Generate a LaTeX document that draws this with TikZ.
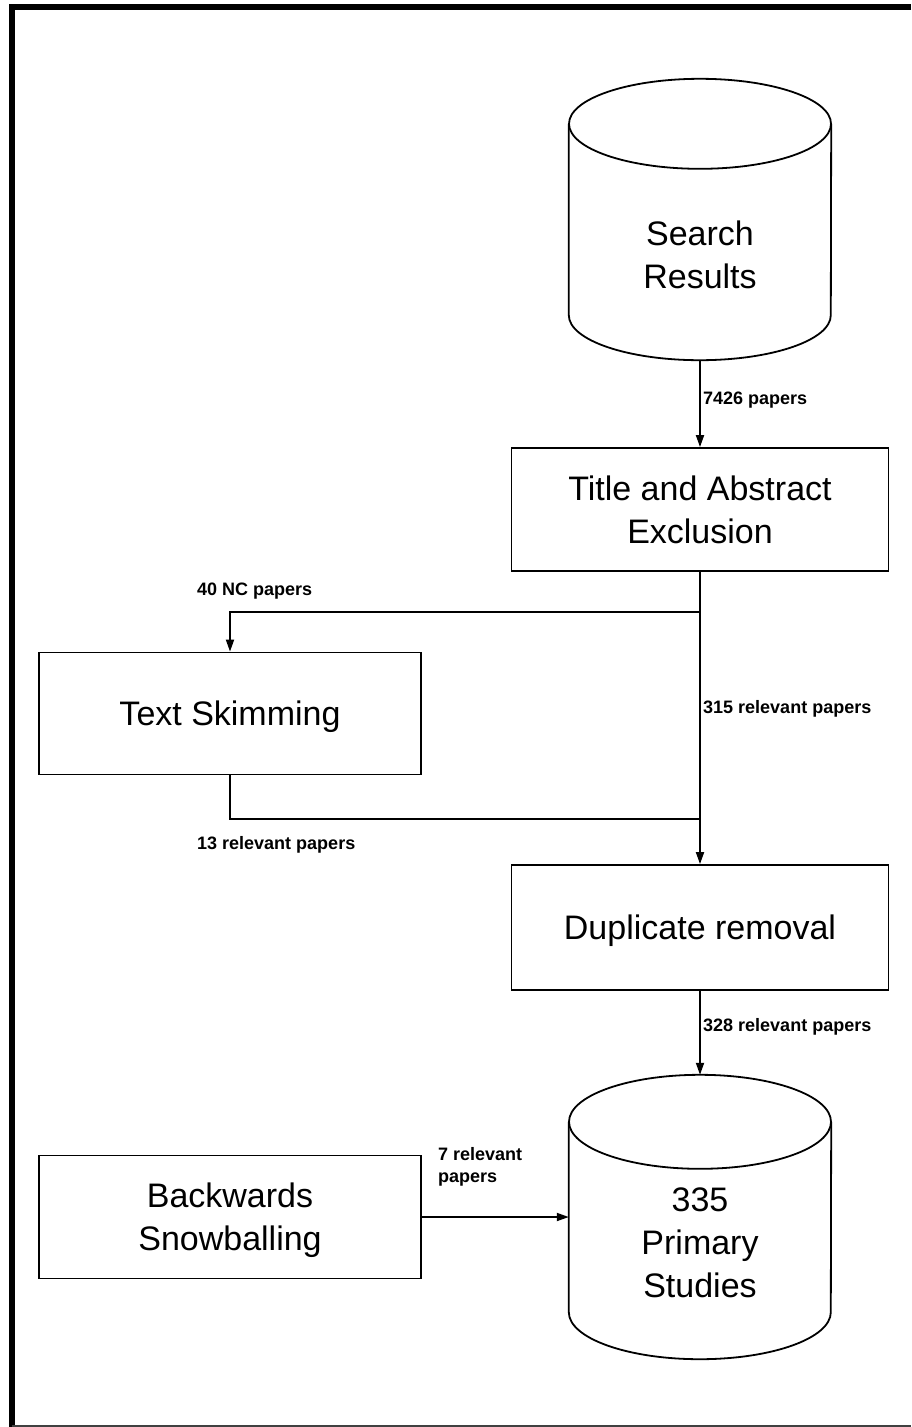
\documentclass[tikz,border=0pt]{standalone}
\usepackage{fontspec}
\setmainfont{Liberation Sans}
\usetikzlibrary{arrows.meta,calc}

\begin{document}
\begin{tikzpicture}[x=1pt,y=-1pt,
    procbox/.style={draw, line width=1.8pt, minimum width=377pt, minimum height=123pt,
        inner sep=0pt, text depth=0pt, align=center, font=\fontsize{34}{43}\selectfont},
    dbase/.style={minimum width=262pt, inner sep=0pt},
    dtext/.style={align=center, inner sep=0pt, font=\fontsize{34}{43}\selectfont},
    lbl/.style={anchor=base west, inner sep=0pt, align=left,
        font=\bfseries\fontsize{18}{22}\selectfont},
    flow/.style={line width=1.8pt, -{Triangle[length=12pt,width=8pt]}}]

    \useasboundingbox (0,0) rectangle (911,1427);

    % Frame
    \draw[line width=6pt] (911,7) -- (11.5,7) -- (11.5,1427);
    \draw[line width=1.5pt, black!75] (11.5,1426) -- (911,1426);

    % Databases
    \node[dbase, minimum height=281pt] (srch) at (700,219.5) {};
    \node[dtext] (srchtxt) at (700,254.5) {Search\\Results};
    \node[dbase, minimum height=284pt] (prim) at (700,1217) {};
    \node[dtext] (primtxt) at (700,1242.5) {335\\Primary\\Studies};
    \foreach \c/\ry in {srch/45,prim/47} {
        \draw[line width=1.8pt] ($(\c.north)+(0,\ry)$) ellipse [x radius=131, y radius=\ry];
        \draw[line width=1.8pt] ($(\c.north west)+(0,\ry)$) -- ($(\c.south west)+(0,-\ry)$)
            arc [start angle=180, end angle=0, x radius=131, y radius=\ry]
            -- ($(\c.north east)+(0,\ry)$);
    }

    % Steps
    \node[procbox] (tae) at (700,509.5) {Title and Abstract\\Exclusion};
    \node[procbox, minimum width=382pt, minimum height=122pt] (skim) at (230,713.5) {Text Skimming};
    \node[procbox, minimum height=125pt] (dup) at (700,927.5) {Duplicate removal};
    \node[procbox, minimum width=382pt] (snow) at (230,1217) {Backwards\\Snowballing};

    % Flow
    \coordinate (split) at ($(tae.south)+(0,40)$);
    \coordinate (join) at ($(dup.north)+(0,-45)$);
    \draw[flow] (srch.south) -- (tae.north);
    \draw[flow] (tae.south) -- (dup.north);
    \draw[flow] (split) -| (skim.north);
    \draw[line width=1.8pt] (skim.south) |- (join);
    \draw[flow] (dup.south) -- (prim.north);
    \draw[flow] (snow.east) -- (prim.west);

    % Counts
    \node[lbl] (n7426) at (703,404) {7426 papers};
    \node[lbl] (nnc) at (197,595) {40 NC papers};
    \node[lbl] (n315) at (703,713) {315 relevant papers};
    \node[lbl] (n13) at (197,849) {13 relevant papers};
    \node[lbl] (n328) at (703,1031) {328 relevant papers};
    \node[lbl, anchor=north west] (n7) at (438,1147) {7 relevant\\papers};
\end{tikzpicture}
\end{document}
